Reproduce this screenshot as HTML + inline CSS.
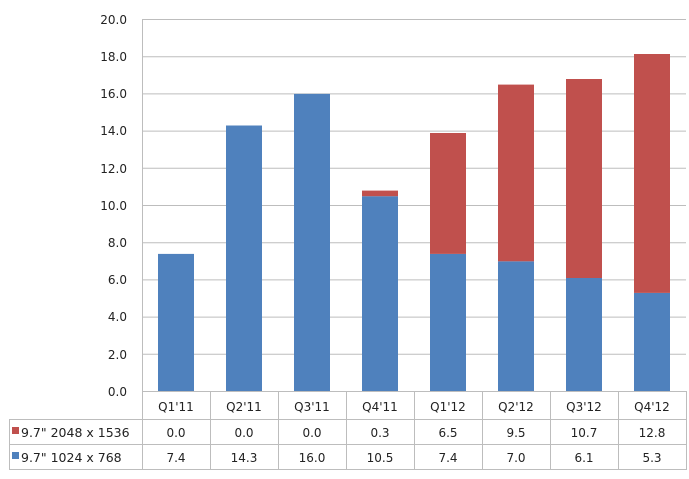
<!DOCTYPE html>
<html><head><style>
body{margin:0;background:#fff;}
svg text{font-family:"DejaVu Sans","Liberation Sans",sans-serif;font-size:12px;fill:#222;}
</style></head><body>
<svg width="689" height="474" xmlns="http://www.w3.org/2000/svg">
<g stroke="#bdbdbd" stroke-width="1">
<line x1="142" y1="19.5" x2="686" y2="19.5"/>
<line x1="142" y1="56.7" x2="686" y2="56.7"/>
<line x1="142" y1="93.9" x2="686" y2="93.9"/>
<line x1="142" y1="131.1" x2="686" y2="131.1"/>
<line x1="142" y1="168.3" x2="686" y2="168.3"/>
<line x1="142" y1="205.5" x2="686" y2="205.5"/>
<line x1="142" y1="242.7" x2="686" y2="242.7"/>
<line x1="142" y1="279.9" x2="686" y2="279.9"/>
<line x1="142" y1="317.1" x2="686" y2="317.1"/>
<line x1="142" y1="354.3" x2="686" y2="354.3"/>
</g>
<g text-anchor="end">
<text x="127" y="24">20.0</text><text x="127" y="61">18.0</text><text x="127" y="98">16.0</text>
<text x="127" y="135">14.0</text><text x="127" y="173">12.0</text><text x="127" y="210">10.0</text>
<text x="127" y="247">8.0</text><text x="127" y="284">6.0</text><text x="127" y="321">4.0</text>
<text x="127" y="359">2.0</text><text x="127" y="396">0.0</text>
</g>
<g fill="#4f81bd">
<rect x="158" y="253.9" width="36" height="137.6"/>
<rect x="226" y="125.5" width="36" height="266"/>
<rect x="294" y="93.9" width="36" height="297.6"/>
<rect x="362" y="196.2" width="36" height="195.3"/>
<rect x="430" y="253.9" width="36" height="137.6"/>
<rect x="498" y="261.3" width="36" height="130.2"/>
<rect x="566" y="278" width="36" height="113.5"/>
<rect x="634" y="292.9" width="36" height="98.6"/>
</g>
<g fill="#c0504d">
<rect x="362" y="190.6" width="36" height="5.6"/>
<rect x="430" y="133" width="36" height="120.9"/>
<rect x="498" y="84.6" width="36" height="176.7"/>
<rect x="566" y="79" width="36" height="199"/>
<rect x="634" y="54" width="36" height="238.9"/>
</g>
<g stroke="#bdbdbd" stroke-width="1" fill="none">
<line x1="142.5" y1="19" x2="142.5" y2="470"/>
<line x1="142" y1="391.5" x2="686" y2="391.5"/>
<line x1="9" y1="419.5" x2="686" y2="419.5"/>
<line x1="9" y1="444.5" x2="686" y2="444.5"/>
<line x1="9" y1="469.5" x2="686" y2="469.5"/>
<line x1="9.5" y1="419" x2="9.5" y2="470"/>
<line x1="210.5" y1="391" x2="210.5" y2="470"/>
<line x1="278.5" y1="391" x2="278.5" y2="470"/>
<line x1="346.5" y1="391" x2="346.5" y2="470"/>
<line x1="414.5" y1="391" x2="414.5" y2="470"/>
<line x1="482.5" y1="391" x2="482.5" y2="470"/>
<line x1="550.5" y1="391" x2="550.5" y2="470"/>
<line x1="618.5" y1="391" x2="618.5" y2="470"/>
<line x1="686.5" y1="391" x2="686.5" y2="470"/>
</g>
<g text-anchor="middle">
<text x="176" y="411">Q1'11</text><text x="244" y="411">Q2'11</text><text x="312" y="411">Q3'11</text><text x="380" y="411">Q4'11</text>
<text x="448" y="411">Q1'12</text><text x="516" y="411">Q2'12</text><text x="584" y="411">Q3'12</text><text x="652" y="411">Q4'12</text>
<text x="176" y="437">0.0</text><text x="244" y="437">0.0</text><text x="312" y="437">0.0</text><text x="380" y="437">0.3</text>
<text x="448" y="437">6.5</text><text x="516" y="437">9.5</text><text x="584" y="437">10.7</text><text x="652" y="437">12.8</text>
<text x="176" y="462">7.4</text><text x="244" y="462">14.3</text><text x="312" y="462">16.0</text><text x="380" y="462">10.5</text>
<text x="448" y="462">7.4</text><text x="516" y="462">7.0</text><text x="584" y="462">6.1</text><text x="652" y="462">5.3</text>
</g>
<rect x="12" y="427" width="7" height="7" fill="#c0504d"/>
<rect x="12" y="452" width="7" height="7" fill="#4f81bd"/>
<text x="21" y="437" style="font-size:12.5px">9.7" 2048 x 1536</text>
<text x="21" y="462" style="font-size:12.5px">9.7" 1024 x 768</text>
</svg>
</body></html>
